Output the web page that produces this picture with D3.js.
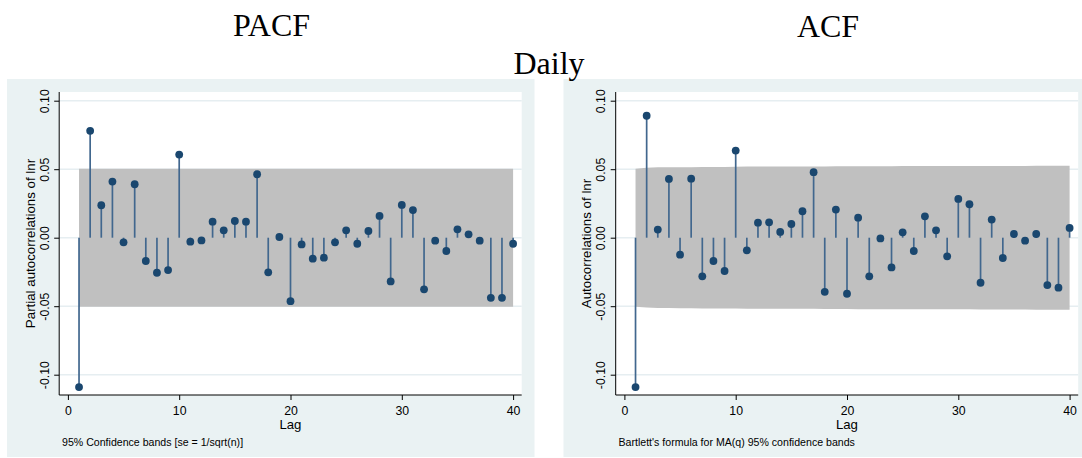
<!DOCTYPE html>
<html><head><meta charset="utf-8">
<script src="https://cdn.jsdelivr.net/npm/d3@7/dist/d3.min.js"></script>
<style>
html,body{margin:0;padding:0;background:#fff;}
svg{display:block;}
</style></head>
<body>
<svg id="chart" width="1082" height="458"></svg>
<script>
// ---- data ----
const lags = d3.range(1, 41);
const pacfValues = [-0.109, 0.078, 0.0237, 0.041, -0.0034, 0.039, -0.017, -0.0256, -0.0236, 0.0607,
  -0.0029, -0.002, 0.0117, 0.0054, 0.0122, 0.0117, 0.0463, -0.0253, 0.0005, -0.0463,
  -0.0049, -0.0153, -0.0146, -0.0034, 0.0054, -0.0044, 0.0049, 0.0159, -0.0319, 0.0239,
  0.0202, -0.0377, -0.0022, -0.0097, 0.0061, 0.0025, -0.0022, -0.0439, -0.0439, -0.0044];
const acfValues = [-0.109, 0.089, 0.0059, 0.0429, -0.0124, 0.0431, -0.0282, -0.017, -0.0243, 0.0636,
  -0.0092, 0.011, 0.0112, 0.0042, 0.010, 0.0193, 0.0478, -0.0395, 0.0205, -0.0409,
  0.0146, -0.0282, -0.0005, -0.0217, 0.0039, -0.0097, 0.0156, 0.0054, -0.0136, 0.0283,
  0.0244, -0.0329, 0.0132, -0.0148, 0.0027, -0.0022, 0.0027, -0.0346, -0.0365, 0.0071];
const pacfBand = lags.map(() => 0.0504);
const acfBand = [0.0504, 0.0510, 0.0514, 0.0514, 0.0515, 0.0515, 0.0516, 0.0516, 0.0516, 0.0517,
  0.0519, 0.0519, 0.0519, 0.0519, 0.0519, 0.0519, 0.0519, 0.0520, 0.0521, 0.0521,
  0.0522, 0.0522, 0.0522, 0.0522, 0.0523, 0.0523, 0.0523, 0.0523, 0.0523, 0.0523,
  0.0523, 0.0524, 0.0524, 0.0524, 0.0524, 0.0524, 0.0525, 0.0525, 0.0525, 0.0526];
const xTicks = [0, 10, 20, 30, 40];
const yTicks = [-0.10, -0.05, 0.00, 0.05, 0.10];
const panelTitles = ["PACF", "ACF"];
const mainTitle = "Daily";
const yTitles = ["Partial autocorrelations of lnr", "Autocorrelations of lnr"];
const xTitle = "Lag";
const notes = ["95% Confidence bands [se = 1/sqrt(n)]", "Bartlett's formula for MA(q) 95% confidence bands"];

// ---- drawing ----
const svg = d3.select("#chart");
const SANS = "'Liberation Sans', Arial, sans-serif";
const SERIF = "'Liberation Serif', 'Times New Roman', serif";
const NAVY = "#1a476f";

function panel(bgLeft, values, band, yTitle, note) {
  const g = svg.append("g");
  const axisX = bgLeft + 52.2, plotRight = bgLeft + 514.7;
  const plotTop = 92, plotBottom = 395;
  g.append("rect").attr("x", bgLeft).attr("y", 79).attr("width", 527.5).attr("height", 378).attr("fill", "#eaf2f3");
  g.append("rect").attr("x", axisX).attr("y", plotTop).attr("width", plotRight - axisX).attr("height", plotBottom - plotTop).attr("fill", "#fff");

  const x = d3.scaleLinear().domain([0, 40]).range([bgLeft + 60.9, bgLeft + 506.1]);
  const y = d3.scaleLinear().domain([-0.10, 0.10]).range([374.7, 100.7]);

  // grid
  g.selectAll(".grid").data(yTicks).join("line")
    .attr("x1", axisX).attr("x2", plotRight)
    .attr("y1", d => y(d)).attr("y2", d => y(d))
    .attr("stroke", "#e6eef1").attr("stroke-width", 1.5);

  // confidence band
  const bandData = lags.map((l, i) => ({l, b: band[i]}));
  g.append("path").datum(bandData)
    .attr("d", d3.area().x(d => x(d.l)).y0(d => y(-d.b)).y1(d => y(d.b)))
    .attr("fill", "#c0c0c0");

  // stems
  const pts = lags.map((l, i) => ({l, v: values[i]}));
  g.selectAll(".stem").data(pts).join("line")
    .attr("x1", d => x(d.l)).attr("x2", d => x(d.l))
    .attr("y1", y(0)).attr("y2", d => y(d.v))
    .attr("stroke", "#41678e").attr("stroke-width", 1.7);
  g.selectAll(".dot").data(pts).join("circle")
    .attr("cx", d => x(d.l)).attr("cy", d => y(d.v)).attr("r", 3.9)
    .attr("fill", NAVY);

  // y axis
  const ya = g.append("g").attr("transform", `translate(${axisX},0)`)
    .call(d3.axisLeft(y).tickValues(yTicks).tickSize(5).tickFormat(d => d.toFixed(2)));
  ya.select(".domain").remove();
  ya.append("line").attr("x1", 0).attr("x2", 0).attr("y1", plotTop).attr("y2", plotBottom).attr("stroke", "#000");
  ya.selectAll(".tick line").attr("stroke", "#000");
  ya.selectAll(".tick text")
    .attr("transform", "rotate(-90)")
    .attr("x", 0).attr("y", -14.7).attr("dy", null)
    .attr("dominant-baseline", "central")
    .attr("text-anchor", "middle")
    .attr("font-family", SANS).attr("font-size", 12.3).attr("fill", "#000");

  // x axis
  const xa = g.append("g").attr("transform", `translate(0,${plotBottom})`)
    .call(d3.axisBottom(x).tickValues(xTicks).tickSize(5).tickPadding(6).tickFormat(d3.format("d")));
  xa.select(".domain").remove();
  xa.append("line").attr("x1", axisX).attr("x2", plotRight).attr("y1", 0).attr("y2", 0).attr("stroke", "#000");
  xa.selectAll(".tick line").attr("stroke", "#000");
  xa.selectAll(".tick text").attr("font-family", SANS).attr("font-size", 12.3).attr("fill", "#000");

  // titles
  g.append("text").attr("x", (axisX + plotRight) / 2).attr("y", 428.5)
    .attr("text-anchor", "middle").attr("font-family", SANS).attr("font-size", 13.2).text(xTitle);
  g.append("text")
    .attr("transform", `translate(${bgLeft + 23.3},${(plotTop + plotBottom) / 2}) rotate(-90)`)
    .attr("text-anchor", "middle").attr("dominant-baseline", "central")
    .attr("font-family", SANS).attr("font-size", 13.3).text(yTitle);
  g.append("text").attr("x", axisX + 2.8).attr("y", 445.5)
    .attr("font-family", SANS).attr("font-size", 10.6).text(note);
}

panel(7, pacfValues, pacfBand, yTitles[0], notes[0]);
panel(563.5, acfValues, acfBand, yTitles[1], notes[1]);

svg.append("text").attr("x", 271.5).attr("y", 35.5).attr("text-anchor", "middle")
  .attr("font-family", SERIF).attr("font-size", 32).text(panelTitles[0]);
svg.append("text").attr("x", 828).attr("y", 36.5).attr("text-anchor", "middle")
  .attr("font-family", SERIF).attr("font-size", 32).text(panelTitles[1]);
svg.append("text").attr("x", 549).attr("y", 73.5).attr("text-anchor", "middle")
  .attr("font-family", SERIF).attr("font-size", 32).text(mainTitle);
</script>
</body></html>
